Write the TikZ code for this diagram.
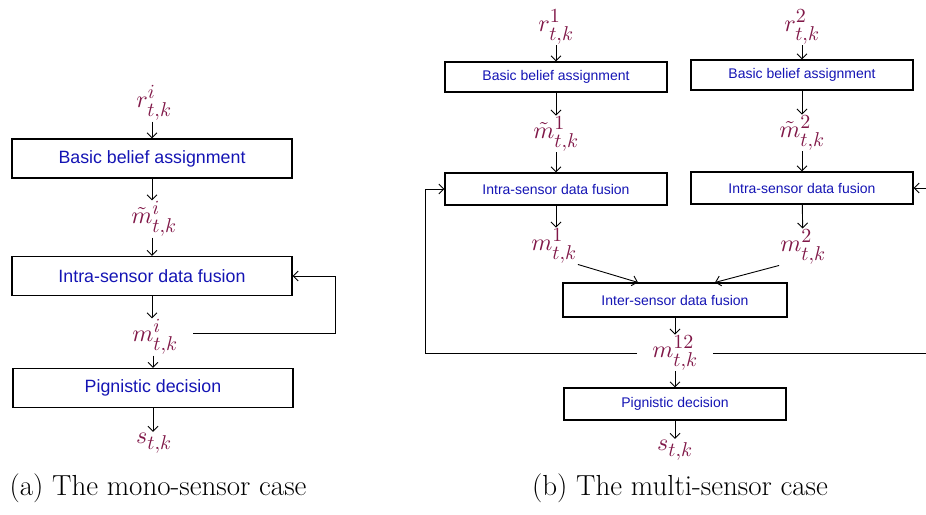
\documentclass[tikz,border=0pt]{standalone}
\usepackage{fontspec}
\newfontfamily\boxfont{Liberation Sans}
\DeclareFontShape{OML}{cmm}{m}{it}{<->cmmi10}{}
\DeclareFontShape{OMS}{cmsy}{m}{n}{<->cmsy10}{}
\DeclareFontShape{OMX}{cmex}{m}{n}{<->cmex10}{}
\DeclareFontShape{OT1}{cmr}{m}{n}{<->cmr10}{}
\DeclareMathSizes{24}{24}{20}{16}
\usetikzlibrary{arrows.meta}
\definecolor{sigcol}{RGB}{128,24,72}
\definecolor{blkcol}{RGB}{20,20,180}

\tikzset{
  block/.style={draw, line width=1.1pt, text=blkcol, inner sep=0pt,
    font=\boxfont\fontsize{17.8}{20}\selectfont,
    minimum width=280pt, minimum height=39pt},
  sblock/.style={block, font=\boxfont\fontsize{14}{16}\selectfont,
    minimum width=222pt, minimum height=32pt},
  sig/.style={text=sigcol, inner sep=1pt, font=\fontsize{24}{26}\selectfont},
  captext/.style={inner sep=0pt, font=\fontsize{29}{32}\selectfont},
  flow/.style={->, line width=0.9pt},
  >={Straight Barb[length=5pt,width=10pt]}
}

\begin{document}
\begin{tikzpicture}[x=1pt,y=-1pt]
\clip (0,0) rectangle (926,514);

% (a) mono-sensor
\node[sig] (ri) at (154,103) {$r^i_{t,k}$};
\node[block] (bbai) at (152,158.5) {Basic belief assignment};
\node[sig] (mti) at (154,219) {$\tilde{m}^i_{t,k}$};
\node[block] (intrai) at (152,276) {Intra-sensor data fusion};
\node[sig] (mi) at (155,337) {$m^i_{t,k}$};
\node[block] (pigi) at (153,388) {Pignistic decision};
\node[sig] (si) at (154,443) {$s_{t,k}$};
\node[captext] (capa) at (158,488) {(a) The mono-sensor case};
\coordinate (fbs) at (193,333);
\coordinate (fbi) at (335,333);

\draw[flow] (ri.south -| bbai) -- (bbai);
\draw[flow] (bbai) -- (bbai |- mti.north);
\draw[flow] (mti.south -| intrai) -- (intrai);
\draw[flow] (intrai) -- (intrai |- mi.north);
\draw[flow] (mi.south -| pigi) -- (pigi);
\draw[flow] (pigi) -- (pigi |- si.north);
\draw[flow] (fbs) -- (fbi) |- (intrai.east);

% (b) multi-sensor
\node[sig] (r1) at (556,27) {$r^1_{t,k}$};
\node[sblock, minimum height=30pt] (bba1) at (556,77) {Basic belief assignment};
\node[sig] (mt1) at (556,134) {$\tilde{m}^1_{t,k}$};
\node[sblock] (intra1) at (556,189) {Intra-sensor data fusion};
\node[sig] (m1) at (554,246) {$m^1_{t,k}$};

\node[sig] (r2) at (802,27) {$r^2_{t,k}$};
\node[sblock, minimum height=30pt] (bba2) at (802,75) {Basic belief assignment};
\node[sig] (mt2) at (802,133) {$\tilde{m}^2_{t,k}$};
\node[sblock] (intra2) at (802,188) {Intra-sensor data fusion};
\node[sig] (m2) at (803,247) {$m^2_{t,k}$};

\node[sblock, minimum width=224pt, minimum height=34pt] (inter) at (675,300) {Inter-sensor data fusion};
\node[sig] (m12) at (675,353) {$m^{12}_{t,k}$};
\node[sblock] (pig) at (675,404) {Pignistic decision};
\node[sig] (s) at (675,450) {$s_{t,k}$};
\node[captext] (capb) at (680,488) {(b) The multi-sensor case};
\coordinate (fbl) at (425,353);
\coordinate (fbr) at (945,353);

\draw[flow] (r1) -- (bba1);
\draw[flow] (bba1) -- (mt1);
\draw[flow] (mt1) -- (intra1);
\draw[flow] (intra1) -- (intra1 |- m1.north);
\draw[flow] (r2) -- (bba2);
\draw[flow] (bba2) -- (mt2);
\draw[flow] (mt2) -- (intra2);
\draw[flow] (intra2) -- (m2);
\draw[flow] (m1.south east) -- ([xshift=-37pt]inter.north);
\draw[flow] (m2.south west) -- ([xshift=40pt]inter.north);
\draw[flow] (inter) -- (m12);
\draw[flow] (m12) -- (pig);
\draw[flow] (pig) -- (s);
\draw[flow] ([xshift=-14pt]m12.west) -- (fbl) |- (intra1.west);
\draw[flow] ([xshift=14pt]m12.east) -- (fbr) |- (intra2.east);
\end{tikzpicture}
\end{document}
